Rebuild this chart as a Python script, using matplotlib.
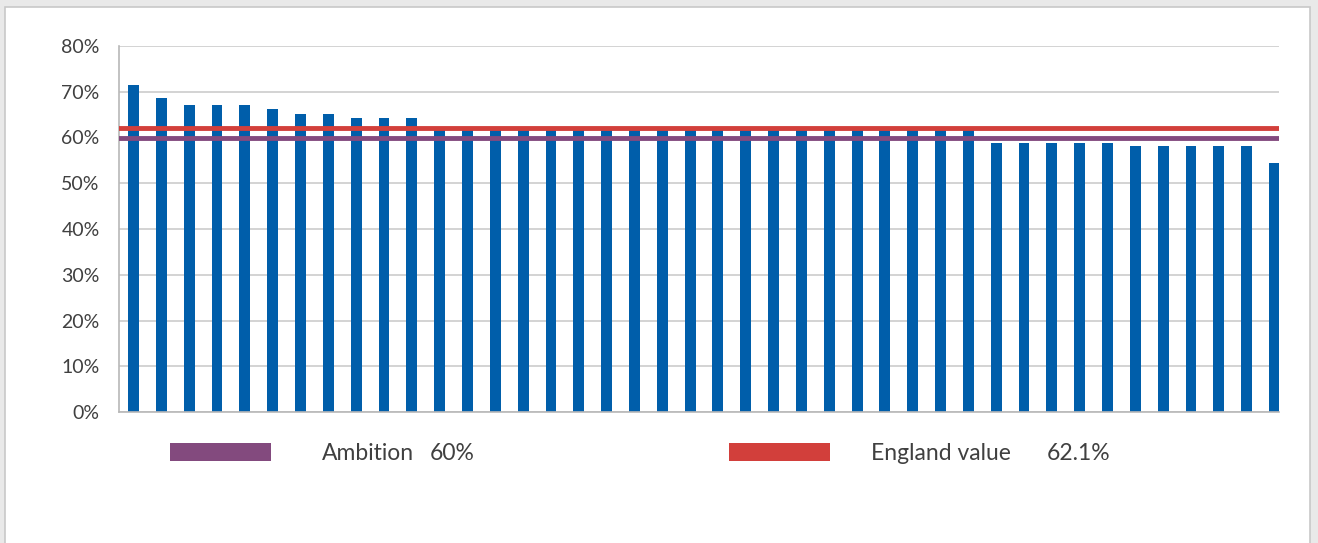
import matplotlib.pyplot as plt
from matplotlib.patches import Rectangle

plt.rcParams['font.family'] = ['Lato', 'DejaVu Sans']

# values per area, sorted high to low (%)
values = [71.4, 68.6, 67.0, 67.0, 67.0, 66.2, 65.1, 65.1, 64.2, 64.2, 64.2] \
    + [62.0] * 20 + [58.9] * 5 + [58.1] * 5 + [54.4]
ambition = 60.0
england = 62.1
yticks = [0, 10, 20, 30, 40, 50, 60, 70, 80]
legend_names = ["Ambition", "England value"]
legend_vals = ["60%", "62.1%"]

bar_col = "#005eaa"
amb_col = "#834a7e"
eng_col = "#d23f3b"

fig = plt.figure(figsize=(13.18, 5.43), dpi=100, facecolor="#e9e9e9")
# white chart panel with grey border
fig.add_artist(Rectangle((5 / 1318, -0.01), 1305 / 1318, 1 - 7 / 543 + 0.01,
                         transform=fig.transFigure, facecolor="white",
                         edgecolor="#c8c8c8", linewidth=1.2, zorder=0))

ax = fig.add_axes([119 / 1318, 1 - 412 / 543, 1160 / 1318, 366 / 543])
ax.set_facecolor("none")

x = list(range(len(values)))
ax.bar(x, values, width=0.39, color=bar_col, zorder=2)
ax.axhline(england, color=eng_col, linewidth=3.5, zorder=3)
ax.axhline(ambition, color=amb_col, linewidth=3.5, zorder=3)

ax.set_xlim(-0.52, 41.16)
ax.set_ylim(0, 80)
ax.set_yticks(yticks)
ax.set_yticklabels([f"{t}%" for t in yticks], fontsize=14, color="#404040")
ax.set_xticks([])
ax.yaxis.grid(True, color="#c8c8c8", linewidth=1.1, zorder=0)
ax.tick_params(axis="y", length=0, pad=14)
for s in ["top", "right"]:
    ax.spines[s].set_visible(False)
for s in ["left", "bottom"]:
    ax.spines[s].set_color("#b8b8b8")
    ax.spines[s].set_linewidth(1.2)

# legend drawn underneath the plot
pos = [(170, 322, 430), (729, 871, 1047)]
for (px, tx, vx), col, name, val in zip(pos, [amb_col, eng_col], legend_names, legend_vals):
    fig.add_artist(Rectangle((px / 1318, 1 - 461 / 543), 101 / 1318, 18 / 543,
                             transform=fig.transFigure, facecolor=col,
                             edgecolor="none"))
    fig.text(tx / 1318, 1 - 453 / 543, name, fontsize=16.5, color="#404040",
             va="center", ha="left")
    fig.text(vx / 1318, 1 - 453 / 543, val, fontsize=16.5, color="#404040",
             va="center", ha="left")

fig.savefig("out.png", dpi=100, facecolor=fig.get_facecolor())
